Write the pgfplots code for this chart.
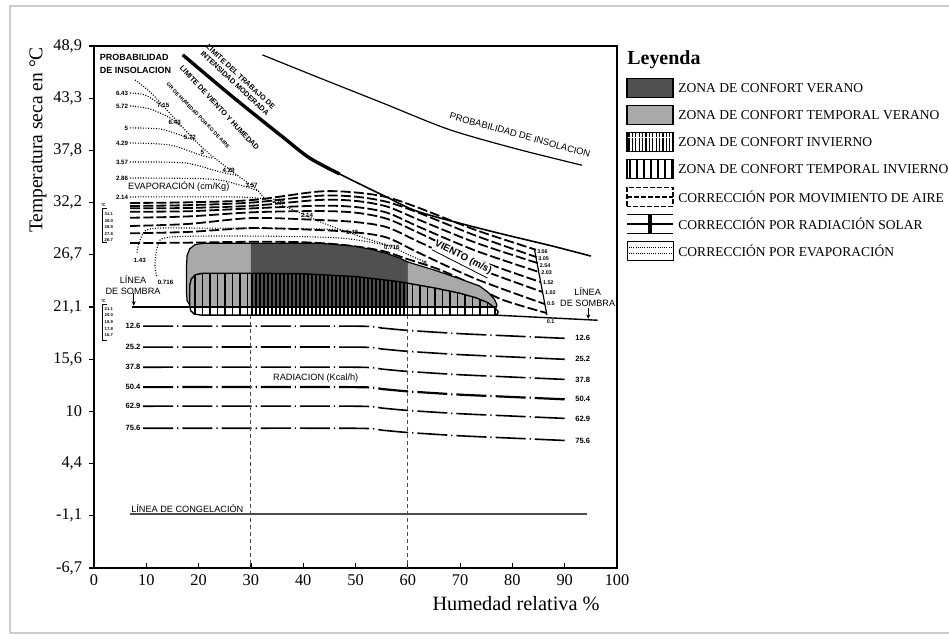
\documentclass[border=0pt]{standalone}
\usepackage{fontspec}
\setmainfont{Liberation Serif}
\newfontfamily\ann{Liberation Sans}
\usepackage{pgfplots}
\pgfplotsset{compat=1.18}
\usetikzlibrary{patterns.meta,arrows.meta}
\definecolor{dkg}{HTML}{505050}
\definecolor{ltg}{HTML}{A9A9A9}
\newcommand{\fsz}[1]{\fontsize{#1}{#1}\selectfont}
\pgfplotsset{
  rad/.style={black, line width=0.8bp, dash pattern=on 15bp off 2bp on 0.6bp off 2bp, smooth, tension=0.4},
  wind/.style={black, line width=0.9bp, dash pattern=on 5bp off 1.6bp, smooth, tension=0.5},
  dotl/.style={black, line width=0.55bp, dash pattern=on 0.5bp off 0.8bp, smooth, tension=0.5},
}
\tikzset{
  sm/.style={font=\ann\bfseries\fsz{3.1}, inner sep=0.3bp},
  wl/.style={font=\ann\bfseries\fsz{2.7}, inner sep=0.2bp},
  rl/.style={font=\ann\bfseries\fsz{3.8}, inner sep=0.4bp},
  tn/.style={font=\ann\bfseries\fsz{2.1}, inner sep=0.2bp},
}
\begin{document}
\begin{tikzpicture}
\path[use as bounding box] (-47bp,-35.5bp) rectangle (427.5bp,284bp);
\begin{axis}[
  at={(0,0)}, anchor=south west, overlay,
  scale only axis, width=261.5bp, height=261bp,
  xmin=0, xmax=100, ymin=-6.67, ymax=48.89,
  clip=false,
  axis line style={line width=1bp},
  xtick={0,10,20,30,40,50,60,70,80,90,100},
  xticklabels={0,10,20,30,40,50,60,70,80,90,100},
  ytick={-6.67,-1.11,4.44,10,15.56,21.11,26.67,32.22,37.78,43.33,48.89},
  yticklabels={{-6,7},{-1,1},{4,4},10,{15,6},{21,1},{26,7},{32,2},{37,8},{43,3},{48,9}},
  xtick pos=bottom, ytick pos=left,
  xtick align=inside, ytick align=outside,
  major tick length=2.5bp,
  tick style={line width=0.6bp, black},
  ticklabel style={font=\fsz{8.2}},
]
% ---------- radiation lines
\addplot[rad] coordinates {(9.4,19.07)(50,19.07)(55,18.87)(60,18.62)(70,18.27)(80,18.02)(90.1,17.77)};
\addplot[rad] coordinates {(9.4,16.84)(50,16.84)(55,16.64)(60,16.39)(70,16.04)(80,15.79)(90.1,15.54)};
\addplot[rad] coordinates {(9.4,14.70)(50,14.70)(55,14.50)(60,14.25)(70,13.90)(80,13.65)(90.1,13.40)};
\addplot[rad, line width=1.1bp] coordinates {(9.4,12.58)(50,12.58)(55,12.38)(60,12.13)(70,11.78)(80,11.53)(90.1,11.28)};
\addplot[rad] coordinates {(9.4,10.55)(50,10.55)(55,10.35)(60,10.10)(70,9.75)(80,9.50)(90.1,9.25)};
\addplot[rad] coordinates {(9.4,8.20)(50,8.20)(55,8.00)(60,7.75)(70,7.40)(80,7.15)(90.1,6.90)};
% ---------- freezing line
\addplot[black!70, line width=1bp] coordinates {(6.9,-0.95)(94.3,-0.95)};
% ---------- vertical dashed lines
\addplot[black!70, line width=0.45bp, dash pattern=on 2bp off 1.5bp] coordinates {(30,20.25)(30,-6.67)};
\addplot[black!70, line width=0.45bp, dash pattern=on 2bp off 1.5bp] coordinates {(60,20.25)(60,-6.67)};
% ---------- wind lines
\addplot[wind] coordinates {(6.9,32.18)(18,32.25)(30.3,32.5)(43,33.4)(50,33.3)(56,32.8)(62.2,31.64)(73,29.3)(84.5,27.2)};
\addplot[wind] coordinates {(6.9,31.86)(18,31.95)(30.3,32.23)(43,32.95)(50,32.85)(56,32.3)(62.2,31.11)(73,28.7)(84.6,26.42)};
\addplot[wind] coordinates {(6.9,31.61)(18,31.65)(30.3,31.89)(43,32.5)(50,32.4)(56,31.8)(62.2,30.37)(73,27.95)(84.8,25.79)};
\addplot[wind] coordinates {(6.9,31.25)(18,31.3)(30.3,31.61)(43,31.89)(50,31.75)(56,31.15)(62.2,29.62)(73,27.1)(85.1,24.83)};
\addplot[wind] coordinates {(6.9,30.61)(18,30.75)(30.3,31.19)(43,31.32)(50,31.15)(56,30.5)(62.2,28.98)(73,26.2)(85.4,23.76)};
\addplot[wind] coordinates {(6.9,29.73)(18,29.95)(30.3,30.58)(43,30.37)(50,30.15)(56,29.6)(62.2,28.02)(73,25.3)(85.8,22.70)};
\addplot[wind] coordinates {(6.9,28.95)(18,29.1)(30.3,29.51)(43,29.3)(50,29.05)(56,28.5)(62.2,26.85)(73,24.1)(86.2,21.42)};
\addplot[wind] coordinates {(6.9,27.92)(17,27.95)(30,28.05)(40,28.0)(48,27.7)(55,27.1)(60,26.2)(66,25.1)(72,23.6)(78,21.9)(86.6,20.46)};
\addplot[black, line width=0.6bp] coordinates {(84.2,27.3)(86.6,20.25)};
% ---------- dotted insolation / evaporation lines
\addplot[dotl] coordinates {(7.84,45.28)(10.71,44.0)(13.58,42.3)(17.4,39.96)(21.22,37.82)(26.0,35.69)(30.78,33.77)(32.7,32.6)};
\addplot[dotl] coordinates {(32.7,32.6)(35.0,32.2)(39.4,31.11)(44,30.0)(48.0,29.19)(52,28.4)(56.6,27.6)(60,26.7)(63.3,25.89)};
\addplot[dotl] coordinates {(6.88,43.89)(9.75,43.68)(12.24,42.83)(13.2,42.4)};
\addplot[dotl] coordinates {(6.88,42.51)(10.71,42.19)(14.53,41.23)(16.6,40.3)};
\addplot[dotl] coordinates {(6.88,40.17)(12.62,40.06)(16.44,39.42)(19.5,38.8)};
\addplot[dotl] coordinates {(6.88,38.57)(14.53,38.35)(20.27,37.29)(22.8,36.95)};
\addplot[dotl] coordinates {(6.88,36.54)(17.4,36.44)(24.09,35.48)(27.5,35.1)};
\addplot[dotl] coordinates {(6.88,34.84)(22.18,34.73)(27.92,34.09)(31.5,33.45)};
\addplot[dotl] coordinates {(6.88,32.82)(27.0,32.82)(32.7,32.6)};
\addplot[dotl] coordinates {(8.22,26.9)(8.8,28.24)(10.71,29.41)(20.27,29.51)(43.2,29.41)(48.0,29.19)};
\addplot[dotl] coordinates {(12.0,24.4)(11.66,25.57)(12.24,27.7)(14.53,28.55)(29.83,28.66)(47.04,28.45)(56.6,27.6)};
% ---------- limit curves
\addplot[black, line width=0.8bp, smooth, tension=0.5] coordinates {(16.98,47.94)(26.53,43.47)(36.07,39.21)(41.22,36.97)(46.95,35.27)(55.92,32.82)(62.21,31.22)(74.99,29.30)(87.6,27.60)(95.0,26.53)};
\addplot[black, line width=1.7bp, smooth, tension=0.5] coordinates {(16.98,47.94)(26.53,43.47)(36.07,39.21)(41.22,36.97)(46.95,35.27)};
\addplot[black, line width=0.6bp, smooth, tension=0.5] coordinates {(32.2,47.94)(42.5,45.63)(55.15,42.83)(67.9,40.0)(80.7,37.95)(93.3,36.2)};
% ---------- shadow line
\addplot[black, line width=0.7bp] coordinates {(7.3,21.11)(77,21.11)};
\addplot[black, line width=0.7bp] coordinates {(76.5,20.25)(96.3,19.7)};
% ---------- comfort zone (summer)
\addplot[fill=ltg, draw=none] coordinates {(17.7,25.6)(17.8,26.6)(18.3,27.3)(19.3,27.75)(21,27.9)(30,27.9)(30,21.11)(19.5,21.11)(18.3,21.3)(17.8,21.8)(17.7,22.5)} -- cycle;
\addplot[fill=dkg, draw=none] coordinates {(30,27.9)(40,27.9)(43,27.9)(49.4,27.6)(53,27.25)(56,26.8)(58.5,26.3)(60,25.9)(60,21.11)(30,21.11)} -- cycle;
\addplot[fill=ltg, draw=none] coordinates {(60,25.9)(65,25.05)(70,24.1)(73.7,23.35)(75.5,22.6)(76.6,21.9)(77.0,21.4)(77,21.11)(60,21.11)} -- cycle;
\addplot[black, line width=0.6bp] coordinates {(18.3,21.11)(77,21.11)};
% ---------- comfort zone (winter, hatched)
\addplot[draw=none, pattern={Lines[angle=90,distance=3.75bp,line width=0.6bp]}] coordinates {(30,24.7)(20.8,24.7)(19.4,24.55)(18.6,24.1)(18.3,23.4)(18.3,21.3)(18.5,20.7)(19.2,20.35)(20.5,20.25)(30,20.25)} -- cycle;
\addplot[draw=none, pattern={Lines[angle=90,distance=2bp,line width=0.6bp]}] coordinates {(30,24.7)(40,24.65)(50,24.35)(58.4,23.8)(60,23.65)(60,20.25)(30,20.25)} -- cycle;
\addplot[draw=none, pattern={Lines[angle=90,distance=3.75bp,line width=0.6bp]}] coordinates {(60,23.65)(65,23.15)(69.8,22.6)(73,22.1)(75.2,21.6)(76.7,21.0)(77.3,20.6)(77.1,20.35)(76.5,20.25)(60,20.25)} -- cycle;
\addplot[black, line width=0.6bp] coordinates {(17.7,25.6)(17.8,26.6)(18.3,27.3)(19.3,27.75)(21,27.9)(30,27.9)(40,27.9)(43,27.9)(49.4,27.6)(53,27.25)(56,26.8)(58.5,26.3)(60,25.9)(65,25.05)(70,24.1)(73.7,23.35)(75.5,22.6)(76.6,21.9)(77.0,21.4)(77,21.11)};
\addplot[black, line width=0.6bp] coordinates {(17.7,25.6)(17.7,22.5)(17.8,21.8)(18.3,21.3)};
\addplot[black, line width=0.7bp] coordinates {(20.8,24.7)(30,24.7)(40,24.65)(50,24.35)(58.4,23.8)(65,23.15)(69.8,22.6)(73,22.1)(75.2,21.6)(76.7,21.0)(77.3,20.6)(77.1,20.35)(76.5,20.25)(20.5,20.25)(19.2,20.35)(18.5,20.7)(18.3,21.3)(18.3,23.4)(18.6,24.1)(19.4,24.55)(20.8,24.7)};
% ---------- small brackets at left
\addplot[black, line width=0.4bp] coordinates {(2.4,31.6)(1.6,31.6)(1.6,27.95)(2.4,27.95)};
\addplot[black, line width=0.4bp] coordinates {(2.4,21.4)(1.6,21.4)(1.6,17.6)(2.4,17.6)};
% ---------- shadow arrows
\addplot[black, line width=0.5bp, -{Stealth[length=2.2bp,width=2bp]}] coordinates {(7.6,22.6)(7.6,21.25)};
\addplot[black, line width=0.5bp, -{Stealth[length=2.2bp,width=2bp]}] coordinates {(94.5,21.0)(94.5,19.85)};
% ---------- texts
\node[anchor=north west, align=left, inner sep=0.4bp, font=\ann\bfseries\fsz{4.5}] at (axis cs:0.9,48.1) {PROBABILIDAD\\[1.6bp]DE INSOLACION};
\node[sm, anchor=east] at (axis cs:6.7,43.89) {6.43};
\node[sm, anchor=east] at (axis cs:6.7,42.51) {5.72};
\node[sm, anchor=east] at (axis cs:6.7,40.17) {5};
\node[sm, anchor=east] at (axis cs:6.7,38.57) {4.29};
\node[sm, anchor=east] at (axis cs:6.7,36.54) {3.57};
\node[sm, anchor=east] at (axis cs:6.7,34.84) {2.86};
\node[sm, anchor=east] at (axis cs:6.7,32.82) {2.14};
\node[sm, anchor=west] at (axis cs:11.9,42.6) {7.15};
\node[sm, anchor=west] at (axis cs:14.1,40.8) {6.43};
\node[sm, anchor=west] at (axis cs:17.0,39.2) {5.72};
\node[sm, anchor=west] at (axis cs:20.2,37.6) {5};
\node[sm, anchor=west] at (axis cs:24.4,35.7) {4.29};
\node[sm, anchor=west] at (axis cs:28.8,34.1) {3.57};
\node[sm, anchor=west] at (axis cs:34.0,32.3) {2.86};
\node[sm, anchor=west] at (axis cs:39.4,30.9) {2.14};
\node[sm, anchor=west] at (axis cs:48.0,29.0) {1.43};
\node[sm, anchor=west] at (axis cs:55.3,27.5) {0.716};
\node[sm, anchor=west] at (axis cs:62.8,25.75) {0};
\node[sm, anchor=west] at (axis cs:7.4,26.1) {1.43};
\node[sm, anchor=west] at (axis cs:12.0,23.76) {0.716};
\node[anchor=west, inner sep=0.4bp, font=\ann\fsz{4.6}] at (axis cs:6.3,33.9) {EVAPORACIÓN (cm/Kg)};
\node[rotate=-46, inner sep=0.2bp, font=\ann\bfseries\fsz{2.6}] at (axis cs:19.9,41.5) {GR DE HUMEDAD POR KG DE AIRE};
\node[rotate=-43, align=center, inner sep=0.3bp, font=\ann\bfseries\fsz{3.7}] at (axis cs:27.5,45.25) {LIMITE DEL TRABAJO DE\\[0.6bp]INTENSIDAD MODERADA};
\node[rotate=-47, inner sep=0.3bp, font=\ann\bfseries\fsz{3.7}] at (axis cs:24.0,42.3) {LIMITE DE VIENTO Y HUMEDAD};
\node[rotate=-15.5, inner sep=0.4bp, font=\ann\fsz{4.7}] at (axis cs:81.45,39.42) {PROBABILIDAD DE INSOLACION};
\node[rotate=-27, fill=white, inner sep=0.6bp, font=\ann\bfseries\fsz{4.9}] at (axis cs:70.4,26.2) {\underline{VIENTO (m/s)}};
\node[wl, anchor=west] at (axis cs:84.6,26.96) {3.56};
\node[wl, anchor=west] at (axis cs:84.8,26.28) {3.05};
\node[wl, anchor=west] at (axis cs:85.1,25.47) {2.54};
\node[wl, anchor=west] at (axis cs:85.4,24.72) {2.03};
\node[wl, anchor=west] at (axis cs:85.7,23.66) {1.52};
\node[wl, anchor=west] at (axis cs:86.1,22.59) {1.02};
\node[wl, anchor=west] at (axis cs:86.5,21.42) {0.5};
\node[wl] at (axis cs:87.3,19.55) {0.1};
\node[align=center, inner sep=0.4bp, font=\ann\fsz{4.6}] at (axis cs:7.46,23.44) {LÍNEA\\[0.6bp]DE SOMBRA};
\node[align=center, inner sep=0.4bp, font=\ann\fsz{4.6}] at (axis cs:94.4,22.15) {LÍNEA\\[0.6bp]DE SOMBRA};
\node[rl, anchor=east] at (axis cs:9.1,19.07) {12.6};
\node[rl, anchor=east] at (axis cs:9.1,16.84) {25.2};
\node[rl, anchor=east] at (axis cs:9.1,14.70) {37.8};
\node[rl, anchor=east] at (axis cs:9.1,12.58) {50.4};
\node[rl, anchor=east] at (axis cs:9.1,10.55) {62.9};
\node[rl, anchor=east] at (axis cs:9.1,8.20) {75.6};
\node[rl, anchor=west] at (axis cs:91.8,17.77) {12.6};
\node[rl, anchor=west] at (axis cs:91.8,15.54) {25.2};
\node[rl, anchor=west] at (axis cs:91.8,13.40) {37.8};
\node[rl, anchor=west] at (axis cs:91.8,11.28) {50.4};
\node[rl, anchor=west] at (axis cs:91.8,9.25) {62.9};
\node[rl, anchor=west] at (axis cs:91.8,6.90) {75.6};
\node[inner sep=0.4bp, font=\ann\fsz{4.6}] at (axis cs:42.4,13.5) {RADIACION (Kcal/h)};
\node[anchor=south west, inner sep=0.4bp, font=\ann\fsz{4.6}] at (axis cs:6.9,-0.85) {LÍNEA DE CONGELACIÓN};
\node[tn, anchor=south west] at (axis cs:1.2,31.7) {ºC};
\node[tn, anchor=west] at (axis cs:1.9,31.0) {31.1};
\node[tn, anchor=west] at (axis cs:1.9,30.3) {30.0};
\node[tn, anchor=west] at (axis cs:1.9,29.6) {28.9};
\node[tn, anchor=west] at (axis cs:1.9,28.9) {27.8};
\node[tn, anchor=west] at (axis cs:1.9,28.2) {26.7};
\node[tn, anchor=south west] at (axis cs:1.2,21.5) {ºC};
\node[tn, anchor=west] at (axis cs:1.9,20.9) {21.1};
\node[tn, anchor=west] at (axis cs:1.9,20.2) {20.0};
\node[tn, anchor=west] at (axis cs:1.9,19.5) {18.9};
\node[tn, anchor=west] at (axis cs:1.9,18.8) {17.8};
\node[tn, anchor=west] at (axis cs:1.9,18.1) {16.7};
\node[rotate=90, font=\fsz{9.8}] at (rel axis cs:-0.107,0.82) {Temperatura seca en °C};
\node[font=\fsz{10.2}] at (rel axis cs:0.807,-0.069) {Humedad relativa \%};
\end{axis}
% ---------- legend
\begin{scope}[x=1bp,y=1bp]
\draw[black!20, line width=0.6bp] (-42,-32.5) -- (-42,281) -- (427.5,281);
\draw[black!20, line width=0.6bp] (-42,-32.5) -- (427.5,-32.5);
\node[anchor=west, inner sep=0, font=\bfseries\fsz{10}] at (266.5,254) {Leyenda};
\draw[fill=dkg, line width=0.6bp] (266.5,235.25) rectangle (289.5,244.75);
\draw[fill=ltg, line width=0.6bp] (266.5,221.75) rectangle (289.5,231.25);
\fill[pattern={Lines[angle=90,distance=1.7bp,line width=0.6bp]}] (266.5,208.25) rectangle (289.5,217.75);
\draw[line width=0.6bp] (266.5,208.25) rectangle (289.5,217.75);
\fill[pattern={Lines[angle=90,distance=3.5bp,line width=0.6bp]}] (266.5,194.75) rectangle (289.5,204.25);
\draw[line width=0.6bp] (266.5,194.75) rectangle (289.5,204.25);
\draw[line width=0.6bp, dash pattern=on 2.5bp off 1bp] (266.5,180.75) rectangle (289.5,190.25);
\draw[line width=0.6bp, dash pattern=on 2.5bp off 1bp] (266.5,185.5) -- (289.5,185.5);
\draw[line width=0.6bp] (266.5,167.25) -- (289.5,167.25) (266.5,172) -- (289.5,172) (266.5,176.75) -- (289.5,176.75);
\draw[line width=0.6bp] (277.5,167.25) -- (277.5,176.75) (278.5,167.25) -- (278.5,176.75);
\draw[line width=0.4bp] (266.5,153.75) rectangle (289.5,163.25);
\draw[line width=0.5bp, dash pattern=on 0.5bp off 0.6bp] (267.5,157) -- (288.5,157) (267.5,160) -- (288.5,160);
\foreach \t/\y in {ZONA DE CONFORT VERANO/240,ZONA DE CONFORT TEMPORAL VERANO/226.5,ZONA DE CONFORT INVIERNO/213,ZONA DE CONFORT TEMPORAL INVIERNO/199.5,CORRECCIÓN POR MOVIMIENTO DE AIRE/185.5,CORRECCIÓN POR RADIACIÓN SOLAR/172,CORRECCIÓN POR EVAPORACIÓN/158.5}
  {\node[overlay, anchor=west, inner sep=0, font=\fsz{6.8}] at (292,\y) {\t};}
\end{scope}
\end{tikzpicture}
\end{document}
